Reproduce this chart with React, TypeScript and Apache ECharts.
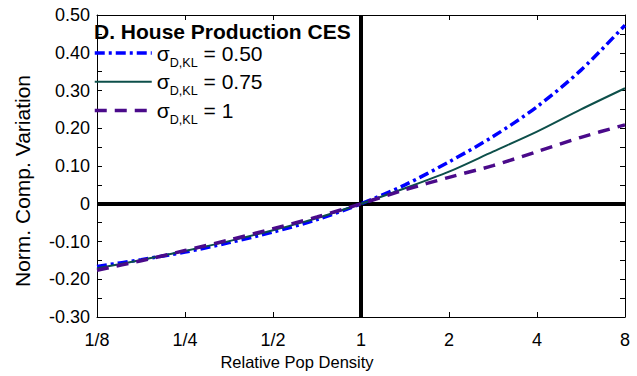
import React, { useEffect, useRef } from "react";
import * as echarts from "echarts";

// Relative population density (x) values
const densities = [0.125, 0.177, 0.25, 0.354, 0.5, 0.707, 1, 1.414, 2, 2.828, 4, 5.657, 8];
// Normalised compensating variation for each elasticity
const sigma050 = [-0.166, -0.148, -0.128, -0.103, -0.075, -0.042, 0, 0.05, 0.111, 0.178, 0.257, 0.354, 0.473];
const sigma075 = [-0.171, -0.149, -0.125, -0.099, -0.07, -0.038, 0, 0.041, 0.085, 0.138, 0.191, 0.25, 0.306];
const sigma100 = [-0.176, -0.151, -0.124, -0.096, -0.066, -0.035, 0, 0.037, 0.07, 0.101, 0.138, 0.176, 0.209];

const seriesNames = ["σD,KL = 0.50", "σD,KL = 0.75", "σD,KL = 1"];
const seriesSuffix = ["0.50", "0.75", "1"];
const xTickValues = [0.125, 0.25, 0.5, 1, 2, 4, 8];
const xTickLabels = ["1/8", "1/4", "1/2", "1", "2", "4", "8"];

const FONT = "'Liberation Sans', Arial, Helvetica, sans-serif";

function xLabel(v: number): string {
  let best = 0;
  let bd = Infinity;
  xTickValues.forEach((t, i) => {
    const d = Math.abs(Math.log2(v) - Math.log2(t));
    if (d < bd) {
      bd = d;
      best = i;
    }
  });
  return xTickLabels[best];
}

export default function App() {
  const ref = useRef<HTMLDivElement>(null);
  useEffect(() => {
    document.body.style.margin = "0";
    if (!ref.current) return;
    const chart = echarts.init(ref.current, null, { renderer: "svg" });
    const pair = (ys: number[]) => densities.map((x, i) => [x, ys[i]]);
    const axisLine = { show: true, onZero: false, lineStyle: { color: "#000", width: 1 } };
    const xCommon = {
      type: "log" as const,
      logBase: 2,
      min: 0.125,
      max: 8,
      splitNumber: 6,
      axisLine,
      axisTick: { show: true, inside: true, length: 5, lineStyle: { color: "#000" } },
      splitLine: { show: false },
    };
    const yCommon = {
      type: "value" as const,
      min: -0.3,
      max: 0.5,
      interval: 0.1,
      axisLine,
      axisTick: { show: true, inside: true, length: 5, lineStyle: { color: "#000" } },
      minorTick: { show: true, splitNumber: 2, length: 5, lineStyle: { color: "#000" } },
      splitLine: { show: false },
    };
    chart.setOption({
      animation: false,
      textStyle: { fontFamily: FONT },
      grid: { left: 97, right: 12, top: 15, bottom: 59, containLabel: false },
      title: {
        text: "D. House Production CES",
        left: 94,
        top: 21,
        padding: 0,
        textStyle: { fontFamily: FONT, fontSize: 21, fontWeight: "bold", color: "#000" },
      },
      legend: {
        orient: "vertical",
        left: 93,
        top: 42.5,
        padding: 0,
        itemWidth: 57,
        itemHeight: 14,
        itemGap: 2.3,
        data: seriesNames,
        itemStyle: { opacity: 0, color: "transparent", borderColor: "transparent", borderWidth: 0 },
        lineStyle: { width: "inherit" },
        formatter: (name: string) => {
          const i = seriesNames.indexOf(name);
          return "{s|σ}{sub|D,KL}{t| = " + seriesSuffix[i] + "}";
        },
        textStyle: {
          color: "#000",
          fontFamily: FONT,
          rich: {
            s: { fontSize: 21, lineHeight: 32, fontFamily: FONT, color: "#000" },
            sub: { fontSize: 12.6, lineHeight: 13, verticalAlign: "bottom", fontFamily: FONT, color: "#000" },
            t: { fontSize: 21, lineHeight: 32, fontFamily: FONT, color: "#000" },
          },
        },
      },
      xAxis: [
        {
          ...xCommon,
          position: "bottom",
          name: "Relative Pop Density",
          nameLocation: "middle",
          nameGap: 36,
          nameTextStyle: { fontFamily: FONT, fontSize: 16.5, color: "#000", padding: [0, 128, 0, 0] },
          axisLabel: {
            show: true,
            margin: 14,
            fontSize: 18,
            color: "#000",
            fontFamily: FONT,
            formatter: (v: number) => xLabel(v),
          },
        },
        {
          ...xCommon,
          position: "top",
          axisLabel: { show: false },
        },
      ],
      yAxis: [
        {
          ...yCommon,
          position: "left",
          name: "Norm. Comp. Variation",
          nameLocation: "middle",
          nameGap: 64,
          nameTextStyle: { fontFamily: FONT, fontSize: 21, color: "#000", padding: [0, 30, 0, 0] },
          axisLabel: {
            show: true,
            margin: 7,
            fontSize: 18,
            color: "#000",
            fontFamily: FONT,
            formatter: (v: number) => (Math.abs(v) < 1e-9 ? "0" : v.toFixed(2)),
          },
        },
        {
          ...yCommon,
          position: "right",
          axisLabel: { show: false },
        },
      ],
      series: [
        {
          name: seriesNames[0],
          type: "line",
          data: pair(sigma050),
          smooth: 0.3,
          symbol: "none",
          z: 4,
          lineStyle: { color: "#0000ff", width: 3.5, type: [10, 4, 3, 4] },
          itemStyle: { color: "#0000ff" },
          markLine: {
            silent: true,
            symbol: "none",
            label: { show: false },
            lineStyle: { color: "#000", width: 4, type: "solid" },
            data: [{ yAxis: 0 }, { xAxis: 1 }],
            z: 3,
          },
        },
        {
          name: seriesNames[1],
          type: "line",
          data: pair(sigma075),
          smooth: 0.3,
          symbol: "none",
          z: 4,
          lineStyle: { color: "#0d4f4a", width: 2, type: "solid" },
          itemStyle: { color: "#0d4f4a" },
        },
        {
          name: seriesNames[2],
          type: "line",
          data: pair(sigma100),
          smooth: 0.3,
          symbol: "none",
          z: 4,
          lineStyle: { color: "#4a0a8a", width: 3.5, type: [12, 8] },
          itemStyle: { color: "#4a0a8a" },
        },
      ],
    });
    return () => chart.dispose();
  }, []);
  return <div ref={ref} style={{ position: "absolute", left: 0, top: 0, width: 637, height: 376 }} />;
}
